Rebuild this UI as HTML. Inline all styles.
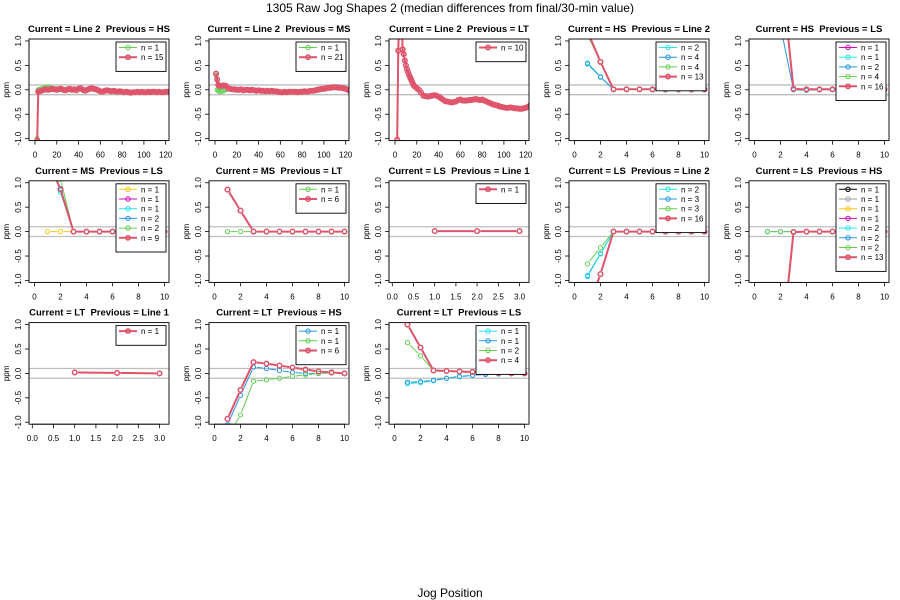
<!DOCTYPE html>
<html><head><meta charset="utf-8">
<style>
html,body{margin:0;padding:0;background:#fff;}
svg{display:block;font-family:"Liberation Sans",Arial,sans-serif;}
</style></head>
<body>
<svg id="chart" width="900" height="600" viewBox="0 0 900 600">
<rect width="900" height="600" fill="#fff"/>
<text x="450" y="12" font-size="12" text-anchor="middle">1305 Raw Jog Shapes 2 (median differences from final/30-min value)</text>
<text x="450" y="597" font-size="12" text-anchor="middle">Jog Position</text>
</svg>
<script>
// ---- data ----
const C = {black:'#000000',gray:'#9E9E9E',gold:'#F5C710',magenta:'#CD0BBC',cyan:'#28E2E5',blue:'#2297E6',green:'#61D04F',red:'#DF536B'};
const xs10 = [1,2,3,4,5,6,7,8,9,10];
const xs3 = [1,2,3];
const yTicks = [-1.0,-0.5,0.0,0.5,1.0];
const yTickLabels = ['-1.0','-0.5','0.0','0.5','1.0'];
const xTicks120 = [0,20,40,60,80,100,120];
const xTicks10 = [0,2,4,6,8,10];
const xTicks3 = [0,0.5,1,1.5,2,2.5,3];
const xTickLabels3 = ['0.0','0.5','1.0','1.5','2.0','2.5','3.0'];

// panel 1
const p1RedX = [2,3,4,6,8,10,12,14,16,18,20,22,24,26,28,30,32,34,36,38,40,42,44,46,48,50,52,54,56,58,60,62,64,66,68,70,72,74,76,78,80,82,84,86,88,90,92,94,96,98,100,102,104,106,108,110,112,114,116,118,120,122,124];
const p1RedY = [-1.04,-0.04,-0.03,
 -0.02,0,0.01,0,0.01,0.02,0.01,0,0.01,0.02,
 0,-0.01,0.01,0.02,0,0.01,-0.01,0.02,0.03,0,
 -0.02,0,0.02,0.03,0.02,0.01,-0.01,-0.03,-0.04,-0.02,
 -0.01,-0.02,-0.03,-0.02,-0.03,-0.04,-0.03,-0.04,-0.05,-0.04,
 -0.05,-0.06,-0.05,-0.05,-0.04,-0.05,-0.04,-0.05,-0.05,-0.04,
 -0.05,-0.04,-0.04,-0.05,-0.04,-0.05,-0.05,-0.04,-0.04,-0.04];
const p1GreenX = [2,3,4,6,8,10,12,14,16,18,20,22];
const p1GreenY = [-1.0,0,0.01,0.02,0.04,0.05,0.05,0.04,0.03,0.02,0.02,0.03];
// panel 2
const p2RedX = [1,2,3,4,6,8,10,12,14,16,18,20,22,24,26,28,30,32,34,36,38,40,42,44,46,48,50,52,54,56,58,60,62,64,66,68,70,72,74,76,78,80,82,84,86,88,90,92,94,96,98,100,102,104,106,108,110,112,114,116,118,120,122,124];
const p2RedY = [0.33,0.21,0.1,0.08,0.08,0.09,0.08,
 0.03,0.02,0.01,0.01,0,0,0.01,-0.01,0,0,
 -0.01,0,-0.01,-0.02,-0.01,-0.02,-0.02,-0.03,-0.02,-0.03,
 -0.02,-0.03,-0.03,-0.04,-0.05,-0.05,-0.04,-0.05,-0.04,-0.04,
 -0.04,-0.04,-0.05,-0.04,-0.04,-0.03,-0.04,-0.03,-0.02,-0.02,
 -0.01,0,0.01,0.02,0.02,0.03,0.04,0.04,0.05,0.05,
 0.05,0.04,0.04,0.03,0.02,0,-0.03];
const p2GreenX = [1,2,3,4,6,8,10];
const p2GreenY = [0.3,0,-0.02,-0.03,-0.03,-0.02,0.0];
// panel 3
const p3RedX = [2,3,4,5,6,7,8,9,10,11,12,13,14,15,16,17,18,20,22,24,26,28,30,32,34,36,38,40,42,44,46,48,50,52,54,56,58,60,62,64,66,68,70,72,74,76,78,80,82,84,86,88,90,92,94,96,98,100,102,104,106,108,110,112,114,116,118,120,122,124];
const p3RedY = [-1.02,0.8,1.6,1.8,1.5,0.83,0.73,0.6,0.5,0.42,0.36,0.3,0.25,0.2,0.15,0.1,0.07,0.03,0.0,-0.06,-0.12,-0.13,-0.14,
 -0.13,-0.12,-0.11,-0.12,-0.14,-0.17,-0.2,-0.23,-0.24,-0.25,
 -0.26,-0.25,-0.24,-0.21,-0.2,-0.22,-0.22,-0.22,-0.21,-0.21,
 -0.2,-0.19,-0.2,-0.21,-0.2,-0.22,-0.24,-0.26,-0.28,-0.3,
 -0.31,-0.32,-0.34,-0.35,-0.36,-0.37,-0.37,-0.36,-0.37,-0.38,
 -0.38,-0.39,-0.39,-0.38,-0.37,-0.35,-0.32];
// panel 4
const p4Cyan = [0.55,0.27,0.01,0.01,0.01,0,0,0,0,0];
const p4Blue = [0.53,0.26,0.01,0.01,0.01,0,0,0,0,0];
const p4Green = [1.12,0.58,0.01,0.01,0.01,0.01,0.01,0.01,0.01,0.01];
const p4Red = [1.2,0.57,0.01,0.01,0.01,0.01,0.01,0.01,0.01,0.01];
// panel 5
const p5Magenta = [5,2.6,0.02,0.01,0.01,0.01,0.01,0.01,0.01,0.01];
const p5Cyan = [5,2.6,0.02,0.01,0.01,0.01,0.01,0.01,0.01,0.01];
const p5Blue = [3,1.3,0.0,-0.01,0.0,0.0,0.0,0.0,0.0,0.0];
const p5Green = [5,2.6,0.02,0.01,0.01,0.01,0.01,0.01,0.01,0.01];
const p5Red = [5,2.6,0.02,0.01,0.01,0.01,0.01,0.01,0.01,0.01];
// panel 6
const p6Gold = [0,0,0,0,0,0,0,0,0,0];
const p6Magenta = [1.47,0.87,0,0,0,0,0,0,0,0];
const p6Cyan = [1.6,0.8,0,0,0,0,0,0,0,0];
const p6Blue = [1.5,0.85,0,0,0,0,0,0,0,0];
const p6Green = [1.9,1.07,0,0,0,0,0,0,0,0];
const p6Red = [1.47,0.87,0,0,0,0,0,0,0,0];
// panel 7
const p7Green = [0,0,0,0,0,0,0,0,0,0];
const p7Red = [0.86,0.43,0,0,0,0,0,0,0,0];
// panel 8
const p8Red = [0.01,0.01,0.01];
// panel 9
const p9Cyan = [-0.92,-0.46,0,0,0,0,0,0,0,0];
const p9Blue = [-0.9,-0.45,0,0,0,0,0,0,0,0];
const p9Green = [-0.66,-0.33,0,0,0,0,0,0,0,0];
const p9Red = [-1.6,-0.87,0,0,0,0,0,0,0,0];
// panel 10
const p10Other = [0,0,0,0,0,0,0,0,0,0];
const p10Red = [-5,-2.6,-0.01,0,0,0,0,0,0,0];
// panel 11
const p11Red = [0.02,0.01,0.0];
// panel 12
const p12Blue = [-1.05,-0.45,0.13,0.1,0.06,0.02,0.0,0.0,0.01,0.0];
const p12Green = [-1.3,-0.85,-0.16,-0.13,-0.1,-0.06,-0.03,0,0.01,0];
const p12Red = [-0.93,-0.34,0.23,0.2,0.16,0.12,0.08,0.04,0.02,0];
// panel 13
const p13Cyan = [-0.21,-0.19,-0.15,-0.1,-0.07,-0.04,-0.02,-0.01,0,0];
const p13Blue = [-0.18,-0.17,-0.14,-0.1,-0.06,-0.04,-0.02,-0.01,0,0];
const p13Green = [0.63,0.36,0.06,0.05,0.04,0.03,0.02,0.01,0,0];
const p13Red = [1.0,0.53,0.06,0.05,0.04,0.03,0.02,0.01,0,0];

const panels = [
 {t:'Line 2',p:'HS',type:'120',leg:[['n = 1',C.green],['n = 15',C.red]],s:[[p1GreenX,p1GreenY,C.green],[p1RedX,p1RedY,C.red]]},
 {t:'Line 2',p:'MS',type:'120',leg:[['n = 1',C.green],['n = 21',C.red]],s:[[p2GreenX,p2GreenY,C.green],[p2RedX,p2RedY,C.red]]},
 {t:'Line 2',p:'LT',type:'120',leg:[['n = 10',C.red]],s:[[p3RedX,p3RedY,C.red]]},
 {t:'HS',p:'Line 2',type:'10',leg:[['n = 2',C.cyan],['n = 4',C.blue],['n = 4',C.green],['n = 13',C.red]],s:[[xs10,p4Cyan,C.cyan],[xs10,p4Blue,C.blue],[xs10,p4Green,C.green],[xs10,p4Red,C.red]]},
 {t:'HS',p:'LS',type:'10',leg:[['n = 1',C.magenta],['n = 1',C.cyan],['n = 2',C.blue],['n = 4',C.green],['n = 16',C.red]],s:[[xs10,p5Magenta,C.magenta],[xs10,p5Cyan,C.cyan],[xs10,p5Blue,C.blue],[xs10,p5Green,C.green],[xs10,p5Red,C.red]]},
 {t:'MS',p:'LS',type:'10',leg:[['n = 1',C.gold],['n = 1',C.magenta],['n = 1',C.cyan],['n = 2',C.blue],['n = 2',C.green],['n = 9',C.red]],s:[[xs10,p6Gold,C.gold],[xs10,p6Magenta,C.magenta],[xs10,p6Cyan,C.cyan],[xs10,p6Blue,C.blue],[xs10,p6Green,C.green],[xs10,p6Red,C.red]]},
 {t:'MS',p:'LT',type:'10',leg:[['n = 1',C.green],['n = 6',C.red]],s:[[xs10,p7Green,C.green],[xs10,p7Red,C.red]]},
 {t:'LS',p:'Line 1',type:'3',leg:[['n = 1',C.red]],s:[[xs3,p8Red,C.red]]},
 {t:'LS',p:'Line 2',type:'10',leg:[['n = 2',C.cyan],['n = 3',C.blue],['n = 3',C.green],['n = 16',C.red]],s:[[xs10,p9Blue,C.blue],[xs10,p9Cyan,C.cyan],[xs10,p9Green,C.green],[xs10,p9Red,C.red]]},
 {t:'LS',p:'HS',type:'10',leg:[['n = 1',C.black],['n = 1',C.gray],['n = 1',C.gold],['n = 1',C.magenta],['n = 2',C.cyan],['n = 2',C.blue],['n = 2',C.green],['n = 13',C.red]],s:[[xs10,p10Other,C.blue],[xs10,p10Other,C.green],[xs10,p10Red,C.red]]},
 {t:'LT',p:'Line 1',type:'3',leg:[['n = 1',C.red]],s:[[xs3,p11Red,C.red]]},
 {t:'LT',p:'HS',type:'10',leg:[['n = 1',C.blue],['n = 1',C.green],['n = 6',C.red]],s:[[xs10,p12Blue,C.blue],[xs10,p12Green,C.green],[xs10,p12Red,C.red]]},
 {t:'LT',p:'LS',type:'10',leg:[['n = 1',C.cyan],['n = 1',C.blue],['n = 2',C.green],['n = 4',C.red]],s:[[xs10,p13Cyan,C.cyan],[xs10,p13Blue,C.blue],[xs10,p13Green,C.green],[xs10,p13Red,C.red]]}
];

// ---- drawing ----
const NS='http://www.w3.org/2000/svg';
const svg=document.getElementById('chart');
function mk(tag,attrs,parent){const e=document.createElementNS(NS,tag);for(const k in attrs)e.setAttribute(k,attrs[k]);(parent||svg).appendChild(e);return e;}

panels.forEach((P,i)=>{
  const col=i%5,row=Math.floor(i/5);
  const L=29+180*col,R=169+180*col,T=39+141.8*row,B=T+101.6;
  const g=mk('g',{});
  
  
  const yS=v=>T+(1.04-v)/2.08*(B-T);
  let xS,ticks,tlabels;
  if(P.type==='120'){xS=v=>L+6+v*130.7/120;ticks=xTicks120;tlabels=xTicks120.map(String);}
  else if(P.type==='10'){xS=v=>L+5.5+v*13;ticks=xTicks10;tlabels=xTicks10.map(String);}
  else {xS=v=>L+3.3+v*42.4;ticks=xTicks3;tlabels=xTickLabels3;}
  const cid='clip'+i;
  const cp=mk('clipPath',{id:cid},g);mk('rect',{x:L,y:T,width:R-L,height:B-T},cp);
  // title
  const tt=mk('text',{x:(L+R)/2,y:T-7,'font-size':'9.5','font-weight':'bold','text-anchor':'middle'},g);
  tt.textContent='Current = '+P.t+'\u00a0\u00a0Previous = '+P.p;
  
  
  // ref lines
  [0.1,-0.1].forEach(v=>{const l=mk('line',{x1:L,x2:R,y1:yS(v),y2:yS(v),stroke:'#BEBEBE','stroke-width':1.3},g);
    
    });
  // y axis
  yTicks.forEach((v,k)=>{const y=yS(v);mk('line',{x1:L-4,x2:L,y1:y,y2:y,stroke:'#000','stroke-width':0.8},g);
    const tx=mk('text',{x:L-8,y:y,'font-size':'8','text-anchor':'middle',transform:`rotate(-90 ${L-8} ${y})`},g);tx.textContent=yTickLabels[k];
    
    });
  mk('line',{x1:L,x2:L,y1:yS(-1),y2:yS(1),stroke:'#000','stroke-width':0.8},g);
  const yl=mk('text',{x:L-20,y:(T+B)/2,'font-size':'8','text-anchor':'middle',transform:`rotate(-90 ${L-20} ${(T+B)/2})`},g);yl.textContent='ppm';
  
  
  // x axis
  ticks.forEach((v,k)=>{const x=xS(v);mk('line',{x1:x,x2:x,y1:B,y2:B+4,stroke:'#000','stroke-width':0.8},g);
    const tx=mk('text',{x:x,y:B+17,'font-size':'8','text-anchor':'middle'},g);tx.textContent=tlabels[k];
    
    });
  mk('line',{x1:xS(ticks[0]),x2:xS(ticks[ticks.length-1]),y1:B,y2:B,stroke:'#000','stroke-width':0.8},g);
  // series
  const sg=mk('g',{'clip-path':`url(#${cid})`},g);
  P.s.forEach(([xs,ys,col])=>{
    const isRed=col===C.red, lw=isRed?2:1, r=isRed?2.3:2.1;
    const ser=mk('g',{},sg);
    
    
    if(P.type==='120'){
      const pts=xs.map((x,k)=>xS(x)+','+yS(ys[k])).join(' ');
      mk('polyline',{points:pts,fill:'none',stroke:col,'stroke-width':lw},ser);
    } else {
      for(let k=0;k<xs.length-1;k++){
        const x1=xS(xs[k]),y1=yS(ys[k]),x2=xS(xs[k+1]),y2=yS(ys[k+1]);
        const dx=x2-x1,dy=y2-y1,d=Math.hypot(dx,dy),gap=3.2;
        if(d<=2*gap)continue;
        mk('line',{x1:x1+dx*gap/d,y1:y1+dy*gap/d,x2:x2-dx*gap/d,y2:y2-dy*gap/d,stroke:col,'stroke-width':lw},ser);
      }
    }
    xs.forEach((x,k)=>{const c=mk('circle',{cx:xS(x),cy:yS(ys[k]),r:r,fill:'none',stroke:col,'stroke-width':isRed?1.5:1},ser);
      
      });
  });
  // box
  mk('rect',{x:L,y:T,width:R-L,height:B-T,fill:'none',stroke:'#000','stroke-width':0.9},g);
  // legend
  const n=P.leg.length,w=50,h=9.7*n+10,bx=R-3-w,by=T+3;
  const lg=mk('g',{},g);
  
  
  mk('rect',{x:bx,y:by,width:w,height:h,fill:'#fff',stroke:'#000','stroke-width':0.9},lg);
  P.leg.forEach(([lab,col],k)=>{
    const y=by+9.7+9.7*k-4.2,isRed=col===C.red;
    const e=mk('g',{},lg);
    
    
    mk('line',{x1:bx+3,x2:bx+21,y1:y,y2:y,stroke:col,'stroke-width':isRed?2:1},e);
    mk('circle',{cx:bx+12,cy:y,r:2.2,fill:'none',stroke:col,'stroke-width':isRed?1.5:1},e);
    const tx=mk('text',{x:bx+25,y:y+3,'font-size':'8'},e);tx.textContent=lab;
  });
});
</script>
</body></html>
